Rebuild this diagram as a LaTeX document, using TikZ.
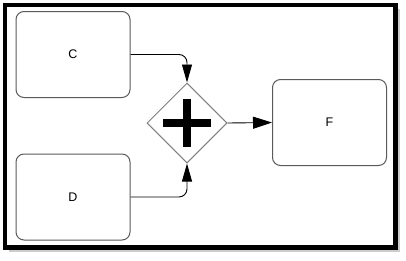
\documentclass[tikz,border=0pt]{standalone}
\usepackage{fontspec}
\setmainfont{Liberation Sans}
\usetikzlibrary{shapes.geometric,arrows.meta}
\definecolor{boxgray}{HTML}{5A5A5A}
\definecolor{gategray}{HTML}{808080}
\begin{document}
\begin{tikzpicture}[x=1pt,y=-1pt,
  task/.style={draw=boxgray,line width=1pt,rounded corners=8pt,minimum width=114pt,minimum height=86pt,inner sep=0pt,font=\fontsize{12.5}{14}\selectfont},
  gate/.style={draw=gategray,line width=1pt,diamond,minimum width=80pt,minimum height=80pt,inner sep=0pt,fill=white},
  flow/.style={draw=black,line width=0.9pt,rounded corners=8pt,-{Triangle[length=18pt,width=10pt]}}]
\useasboundingbox (0,0) rectangle (406,260);
\fill[white] (0,0) rectangle (406,260);
\draw[gray!40,line width=2pt] (9,250.5) -- (399,250.5) -- (399,9);
\draw[black,line width=4.5pt] (5,5) rectangle (395.5,247.5);
\node[task] (C) at (73,54.5) {C};
\node[task] (D) at (73,197) {D};
\node[task] (F) at (329.5,122.5) {F};
\node[gate] (G) at (187,123) {};
\fill[black] (163,119) rectangle (211,127);
\fill[black] (183,99) rectangle (191,147);
\draw[flow] (C.east) -| (G.north);
\draw[flow] (D.east) -| (G.south);
\draw[draw=black,line width=0.9pt,-{Triangle[length=19pt,width=12pt]}] (G.east) -- (F.west);
\end{tikzpicture}
\end{document}
